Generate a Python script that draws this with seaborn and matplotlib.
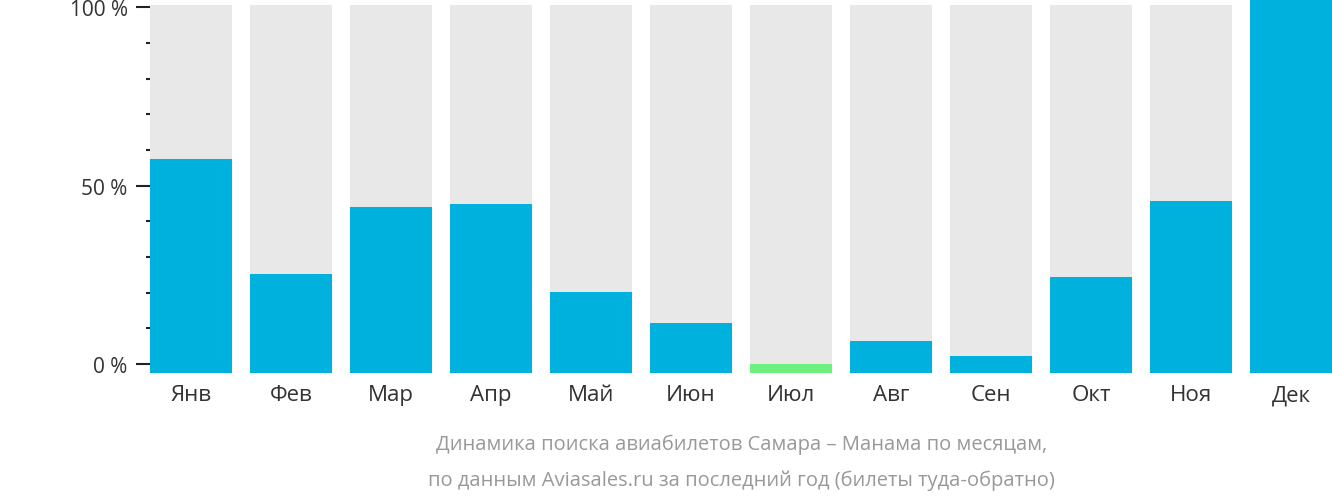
import matplotlib
matplotlib.use("Agg")
import matplotlib.pyplot as plt
import seaborn as sns
import pandas as pd

months = ["Янв", "Фев", "Мар", "Апр", "Май", "Июн", "Июл", "Авг", "Сен", "Окт", "Ноя", "Дек"]
values = [57.4, 25.2, 44.0, 44.8, 20.2, 11.5, 0.0, 6.4, 2.2, 24.4, 45.7, 103.0]
colors = ["#00b0dd"] * 6 + ["#6ef07f"] + ["#00b0dd"] * 5

plt.rcParams["font.family"] = "Open Sans"
fig = plt.figure(figsize=(13.32, 5.02), dpi=100)
ax = fig.add_axes([150 / 1332, 128 / 502, 1 - 150 / 1332, 1 - 128 / 502])

base = -2.5
df = pd.DataFrame({"month": months, "value": values, "bg": [103.0] * 12})
sns.barplot(data=df, x="month", y="bg", color="#e8e8e8", width=0.82, ax=ax,
            bottom=base, saturation=1)
df["h"] = [max(v - base, 2.3) for v in values]
sns.barplot(data=df, x="month", y="h", hue="month", palette=colors, width=0.82,
            ax=ax, bottom=base, saturation=1, legend=False)

ax.set_xlim(-0.41, 11.41)
ax.set_ylim(base, 102.3)
for s in ax.spines.values():
    s.set_visible(False)
ax.set_yticks([0, 50, 100])
ax.set_yticklabels(["0 %", "50 %", "100 %"])
ax.set_yticks([10, 20, 30, 40, 60, 70, 80, 90], minor=True)
ax.tick_params(axis="y", which="major", length=10, width=1.5, color="#222222",
               labelsize=15, pad=6, labelcolor="#333333")
ax.tick_params(axis="y", which="minor", length=3, width=1.5, color="#222222")
ax.tick_params(axis="x", length=0, labelsize=16, pad=8, labelcolor="#333333")
ax.set_xlabel("")
ax.set_ylabel("")

fig.text(0.557, 0.115, "Динамика поиска авиабилетов Самара – Манама по месяцам,",
         ha="center", va="center", fontsize=14.5, color="#999999")
fig.text(0.557, 0.043, "по данным Aviasales.ru за последний год (билеты туда-обратно)",
         ha="center", va="center", fontsize=14.5, color="#999999")

fig.savefig("out.png", dpi=100)
